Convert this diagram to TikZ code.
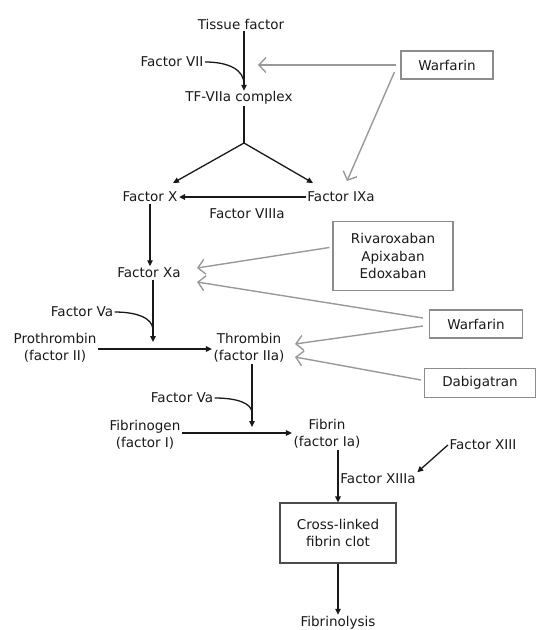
\documentclass[tikz,border=0pt]{standalone}
\usepackage{fontspec}
\setmainfont{DejaVu Sans}
\usetikzlibrary{arrows.meta}
\begin{document}
\begin{tikzpicture}[x=1pt,y=-1pt,
  every node/.style={font=\fontsize{13.5}{17.5}\selectfont, inner sep=1.5pt, align=center, text=black!90},
  blk/.style={line width=1.3pt, black!90},
  blkarr/.style={blk, -{Triangle[length=6pt,width=5.5pt]}},
  grayarr/.style={line width=1.4pt, black!40, -{Straight Barb[length=7pt,width=15pt,line width=1.4pt]}},
  drugbox/.style={draw=black!45, line width=1.1pt, inner sep=4pt},
  clotbox/.style={draw=black!70, line width=1.1pt, inner sep=4pt}]
\useasboundingbox (0,0) rectangle (549,630);
% nodes
\node (tf) at (241,24) {Tissue factor};
\node (f7) at (172,62) {Factor VII};
\node (tfc) at (239,98) {TF-VIIa complex};
\node[drugbox, minimum width=92pt, minimum height=28pt] (w1) at (447,65) {Warfarin};
\node (fx) at (150,197) {Factor X};
\node (f9) at (341,197) {Factor IXa};
\node (f8) at (247,214) {Factor VIIIa};
\node (fxa) at (149,273) {Factor Xa};
\node[drugbox, minimum width=120pt, minimum height=69pt] (riv) at (393,256) {Rivaroxaban\\Apixaban\\Edoxaban};
\node[drugbox, minimum width=93pt, minimum height=28pt] (w2) at (476,324) {Warfarin};
\node[drugbox, minimum width=111pt, minimum height=29pt] (dab) at (480,383) {Dabigatran};
\node (f5a) at (82,312) {Factor Va};
\node (pro) at (55,348) {Prothrombin\\(factor II)};
\node (thr) at (249,348) {Thrombin\\(factor IIa)};
\node (f5b) at (182,398) {Factor Va};
\node (fbg) at (145,435) {Fibrinogen\\(factor I)};
\node (fib) at (327,434) {Fibrin\\(factor Ia)};
\node (f13) at (483,445) {Factor XIII};
\node (f13a) at (378,479) {Factor XIIIa};
\node[clotbox, minimum width=116pt, minimum height=60pt] (clot) at (338,533) {Cross-linked\\fibrin clot};
\node (fly) at (338,623) {Fibrinolysis};
% junction coordinates
\coordinate (j1) at (244,143);
\coordinate (j2) at (153,342);
\coordinate (j3) at (252,427);
\coordinate (wt1) at (258,65);
\coordinate (xt1) at (197,268);
\coordinate (xt2) at (197,282);
\coordinate (tt1) at (295,344);
\coordinate (tt2) at (295,357);
\coordinate (ft9) at (347,181);
% black connectors
\draw[blkarr] (tf.south -| j1) -- ([yshift=-1pt]tfc.north -| j1);
\draw[blk] (f7.east) .. controls +(24,0) and +(0,-14) .. (244,84);
\draw[blk] (tfc.south -| j1) -- (j1);
\draw[blkarr] (j1) -- (173,183);
\draw[blkarr] (j1) -- (313,183);
\draw[blkarr] (f9.west) -- (fx.east);
\draw[blkarr] (fx.south) -- (fx.south |- fxa.north);
\draw[blkarr] (fxa.south -| j2) -- (j2);
\draw[blk] (f5a.east) .. controls +(22,0) and +(0,-12) .. (153,330);
\draw[blkarr] (pro.east |- 0,349) -- (thr.west |- 0,349);
\draw[blkarr] (thr.south -| j3) -- (j3);
\draw[blk] (f5b.east) .. controls +(22,0) and +(0,-10) .. (252,413);
\draw[blkarr] (fbg.east |- 0,433) -- (fib.west |- 0,433);
\draw[blkarr] (fib.south -| clot.north) -- (clot.north);
\draw[blkarr] (f13.west) -- (f13a.north east);
\draw[blkarr] (clot.south) -- (clot.south |- fly.north);
% gray inhibitor arrows
\draw[grayarr, shorten <=4pt] (w1.west) -- (wt1);
\draw[grayarr] ([xshift=-6pt,yshift=-7pt]w1.west) -- (ft9);
\draw[grayarr, shorten <=3pt] ([yshift=9pt]riv.west) -- (xt1);
\draw[grayarr] ([xshift=-6pt,yshift=6pt]w2.west) -- (xt2);
\draw[grayarr] ([xshift=-6pt,yshift=-2pt]w2.west) -- (tt1);
\draw[grayarr] ([xshift=-3pt,yshift=3pt]dab.west) -- (tt2);
\end{tikzpicture}
\end{document}
